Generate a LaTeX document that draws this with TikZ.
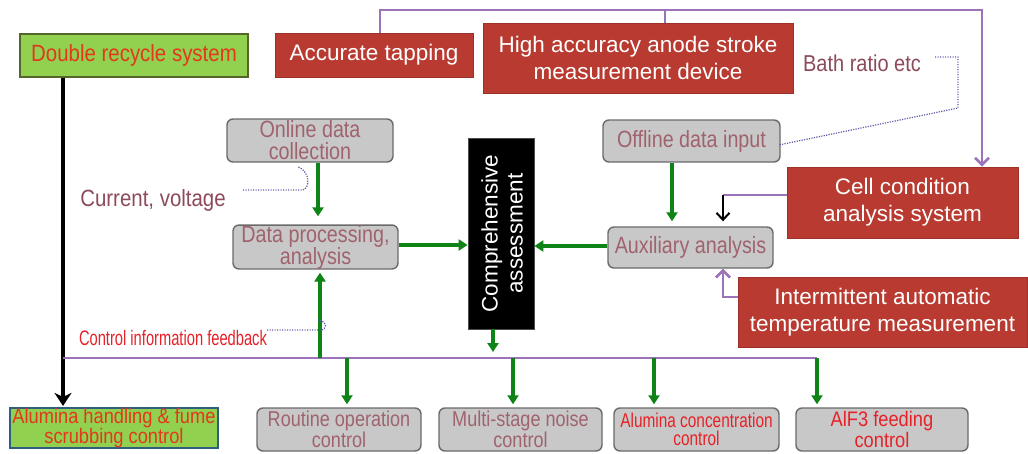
\documentclass[tikz,border=0pt]{standalone}
\usepackage{fontspec}
\setmainfont{Liberation Sans}
\newfontfamily\sfplain{Liberation Sans}
\newfontfamily\sfwide[FakeStretch=0.87]{Liberation Sans}
\newfontfamily\sfnarrow[FakeStretch=0.84]{Liberation Sans}
\newfontfamily\sftight[FakeStretch=0.77]{Liberation Sans}
\newfontfamily\sfsqueeze[FakeStretch=0.70]{Liberation Sans}
\usetikzlibrary{arrows.meta,calc}

\definecolor{redbox}{HTML}{B83A30}
\definecolor{greyfill}{HTML}{C8C8C8}
\definecolor{greyline}{HTML}{6A6A6A}
\definecolor{greytext}{HTML}{A0636E}
\definecolor{rosetext}{HTML}{8C4A5A}
\definecolor{alertred}{HTML}{E62228}
\definecolor{orangered}{HTML}{E2381C}
\definecolor{leafgreen}{HTML}{92D050}
\definecolor{olivedark}{HTML}{55662A}
\definecolor{tealdark}{HTML}{2E5E80}
\definecolor{flowgreen}{HTML}{0E8416}
\definecolor{linkpurple}{HTML}{9C72B8}
\definecolor{dotblue}{HTML}{5A5AA8}

\tikzset{
  redcard/.style={fill=redbox, draw=redbox!85!black, line width=0.8pt, text=white,
    inner sep=0pt, align=center, font=\sfplain\fontsize{22.5}{27}\selectfont},
  greycard/.style={fill=greyfill, draw=greyline, line width=1.4pt, rounded corners=6pt,
    inner sep=0pt, align=center, text=greytext},
  uppertext/.style={font=\sfnarrow\fontsize{23.5}{22}\selectfont},
  lowertext/.style={font=\sfnarrow\fontsize{21.5}{18}\selectfont},
  greenarrow/.style={draw=flowgreen, line width=3.2pt, -{Triangle[width=11pt,length=9pt]}},
  purpleline/.style={draw=linkpurple, line width=2.8pt},
  purplearrow/.style={purpleline, -{Straight Barb[width=14pt,length=7pt,line width=2.6pt]}},
  dotlink/.style={draw=dotblue, line width=1.2pt, dash pattern=on 1.2pt off 1.3pt},
}

\begin{document}
\begin{tikzpicture}[x=1pt,y=-1pt]
\useasboundingbox (0,0) rectangle (1028,453);
\fill[white] (0,0) rectangle (1028,453);

% ---- boxes along the top
\node (drs) [fill=leafgreen, draw=olivedark, line width=1.6pt, inner sep=0pt,
  minimum width=228, minimum height=43, text=orangered,
  font=\sfwide\fontsize{23.5}{26}\selectfont] at (134,55.5) {Double recycle system};
\node (acc) [redcard, minimum width=198, minimum height=44] at (374,55) {Accurate tapping};
\node (high) [redcard, minimum width=310, minimum height=70] at (638,58)
  {High accuracy anode stroke\\measurement device};
\node (bath) [text=rosetext, inner sep=0pt, font=\sfwide\fontsize{23}{26}\selectfont]
  at (862,63) {Bath ratio etc};

% ---- right hand red boxes
\node (cell) [redcard, minimum width=231, minimum height=71] at (902.5,202.5)
  {Cell condition\\analysis system};
\node (inter) [redcard, minimum width=289, minimum height=70] at (882.5,312)
  {Intermittent automatic\\temperature measurement};

% ---- data handling boxes
\node (online) [greycard, uppertext, minimum width=166, minimum height=43] at (310,140.5)
  {Online data\\collection};
\node (dproc) [greycard, uppertext, minimum width=165, minimum height=42] at (315.5,247)
  {Data processing,\\analysis};
\node (offline) [greycard, uppertext, minimum width=177, minimum height=42] at (691.5,141)
  {Offline data input};
\node (aux) [greycard, uppertext, minimum width=165, minimum height=41] at (690.5,247.5)
  {Auxiliary analysis};

\node (comp) [fill=black, draw=black!70, line width=0.8pt, minimum width=66,
  minimum height=191, inner sep=0pt] at (501,233.5) {};
\node (complabel) [rotate=90, text=white, align=center, inner sep=0pt,
  font=\sfplain\fontsize{22.5}{25}\selectfont] at (502,233.5) {Comprehensive\\assessment};

\node (curv) [text=rosetext, inner sep=0pt, font=\sfwide\fontsize{23.5}{26}\selectfont]
  at (153,200) {Current, voltage};
\node (cif) [text=alertred, inner sep=0pt, font=\sfsqueeze\fontsize{21}{24}\selectfont]
  at (173,338) {Control information feedback};

% ---- control boxes along the bottom
\node (alum) [fill=leafgreen, draw=tealdark, line width=2pt, inner sep=0pt,
  minimum width=208, minimum height=40, align=center, text=orangered,
  font=\sfwide\fontsize{21}{17.5}\selectfont] at (114,428)
  {Alumina handling \& fume\\scrubbing control};
\node (routine) [greycard, lowertext, minimum width=164, minimum height=43] at (339,429.5)
  {Routine operation\\control};
\node (multi) [greycard, lowertext, minimum width=163, minimum height=43] at (520.5,429.5)
  {Multi-stage noise\\control};
\node (conc) [greycard, text=alertred, font=\sftight\fontsize{20}{18.5}\selectfont,
  minimum width=165, minimum height=43] at (696.5,429.5)
  {Alumina concentration\\control};
\node (alf) [greycard, text=alertred, font=\sfwide\fontsize{21}{18}\selectfont,
  minimum width=172, minimum height=43] at (882,429.5)
  {AlF3 feeding\\control};

% ---- routing points
\coordinate (tapA) at (380,10);
\coordinate (tapB) at (665,10);
\coordinate (tapC) at (982,10);
\coordinate (busL) at (63,358);
\coordinate (busR) at (817,358);
\coordinate (bup) at (320,358);
\coordinate (bd1) at (347,358);
\coordinate (bd2) at (513,358);
\coordinate (bd3) at (654,358);
\coordinate (compout) at (493,352);
\coordinate (jc) at (723,195);
\coordinate (ji) at (723,297);

% ---- measurement links at the top
\draw[purplearrow] (acc.north -| tapA) -- (tapA) -- (tapC) -- (cell.north -| tapC);
\draw[purpleline] (tapB) -- (high.north -| tapB);

% ---- double recycle line
\coordinate (blk) at ($(drs.south)+(-71,0)$);
\draw[line width=3.5pt, -{Stealth[width=17pt,length=13pt,inset=4pt]}, shorten >=1pt]
  (blk) -- (alum.north -| blk);

% ---- control bus
\draw[purpleline] (busL) -- (busR);
\draw[greenarrow, shorten >=3pt] (bup) -- (dproc.south -| bup);
\draw[greenarrow, shorten >=3pt] (bd1) -- (routine.north -| bd1);
\draw[greenarrow, shorten >=3pt] (bd2) -- (multi.north -| bd2);
\draw[greenarrow, shorten >=3pt] (bd3) -- (conc.north -| bd3);
\draw[greenarrow, shorten >=3pt] (busR) -- (alf.north -| busR);
\draw[greenarrow] (comp.south -| compout) -- (compout);

% ---- data flow
\coordinate (on1) at ($(online.south)+(8,0)$);
\draw[greenarrow, shorten >=8pt] (on1) -- (dproc.north -| on1);
\coordinate (dp1) at ($(dproc.east)+(0,-2)$);
\draw[greenarrow] (dp1) -- (comp.west |- dp1);
\coordinate (ax1) at ($(aux.west)+(0,-1.5)$);
\draw[greenarrow] (ax1) -- (comp.east |- ax1);
\coordinate (of1) at ($(offline.south)+(-19.5,0)$);
\draw[greenarrow, shorten >=5pt] (of1) -- (aux.north -| of1);

% ---- cell condition and temperature inputs
\draw[purpleline] (cell.west |- jc) -- (jc);
\draw[line width=2pt, -{Straight Barb[width=13pt,length=7pt,line width=2pt]}, shorten >=5pt]
  (jc) -- (aux.north -| jc);
\draw[purplearrow] (inter.west |- ji) -- (ji) -- (aux.south -| ji);

% ---- dotted annotation leaders
\coordinate (bt1) at (935,57);
\coordinate (bt2) at (958,57);
\coordinate (bt3) at (958,108);
\draw[dotlink] (bt1) -- (bt2) -- (bt3) -- ($(offline.east)+(-2,4)$);
\coordinate (cv1) at (243,190);
\draw[dotlink] (cv1) -- (302,190) .. controls (310,190) and (311,172) .. ($(online.south)+(-12,4)$);
\coordinate (cf1) at (267,330);
\draw[dotlink] (cf1) -- (320,330) .. controls (328,330) and (327,321) .. (318,320);
\end{tikzpicture}
\end{document}
